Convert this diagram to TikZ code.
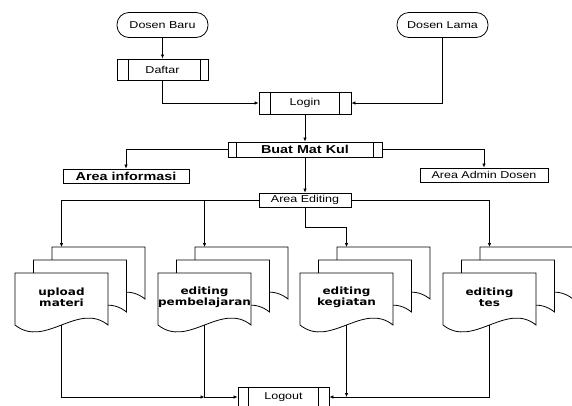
\documentclass[tikz,border=0pt]{standalone}
\usepackage{fontspec}
\setmainfont{Liberation Sans}[FakeStretch=1.25]
\newfontfamily\docfont{DejaVu Sans}[FakeStretch=1.2]
\usetikzlibrary{arrows.meta,calc}
\newcommand\mydocshape[2]{%
  \draw[docline] ({#1},{#2+52}) -- ({#1},{#2}) -- ({#1+93},{#2}) -- ({#1+93},{#2+52})
    .. controls ({#1+63},{#2+28}) and ({#1+30},{#2+76}) .. ({#1},{#2+52}) -- cycle;}
\newcommand\mydocstack[4]{%
  \begin{scope}[shift={(#1,#2)}]
    \mydocshape{37}{-26}
    \mydocshape{18.5}{-13}
    \mydocshape{0}{0}
    \coordinate (#3top) at (46.5,-26);
    \coordinate (#3bot) at (46.5,52);
    \node[doclabel] (#3) at (46.5,24) {#4};
  \end{scope}}
\begin{document}
\begin{tikzpicture}[x=1pt,y=-1pt,
  box/.style={draw=black,line width=0.8pt,inner sep=0pt,fill=white,font=\fontsize{10}{12}\selectfont},
  term/.style={box,rounded corners=12pt,minimum width=91pt,minimum height=25pt},
  bold/.style={font=\fontsize{11.5}{13}\selectfont\bfseries},
  docline/.style={draw=black,line width=0.8pt,fill=white},
  doclabel/.style={align=center,inner sep=0pt,font=\docfont\bfseries\fontsize{10}{11}\selectfont},
  arr/.style={draw=black,line width=0.7pt,-{Latex[length=4pt,width=3.5pt]}},
  ln/.style={draw=black,line width=0.8pt}]
\clip (0,0) rectangle (572,405);
\fill[white] (0,0) rectangle (572,405);

% top terminators
\node[term] (dbaru) at (162.5,25) {Dosen Baru};
\node[term] (dlama) at (442.5,25) {Dosen Lama};

% process boxes
\node[box,minimum width=91pt,minimum height=21pt] (daftar) at (162.5,69.5) {Daftar};
\draw[ln] ([xshift=12pt]daftar.north west) -- ([xshift=12pt]daftar.south west);
\draw[ln] ([xshift=-8pt]daftar.north east) -- ([xshift=-8pt]daftar.south east);

\node[box,minimum width=92pt,minimum height=22pt] (login) at (305,103) {Login};
\draw[ln] ([xshift=12pt]login.north west) -- ([xshift=12pt]login.south west);
\draw[ln] ([xshift=-12pt]login.north east) -- ([xshift=-12pt]login.south east);

\node[box,bold,minimum width=154pt,minimum height=15pt] (buat) at (305,149.5) {Buat Mat Kul};
\draw[ln] ([xshift=9pt]buat.north west) -- ([xshift=9pt]buat.south west);
\draw[ln] ([xshift=-9pt]buat.north east) -- ([xshift=-9pt]buat.south east);

\node[box,bold,minimum width=126pt,minimum height=14pt] (ainfo) at (126,176) {Area informasi};
\node[box,minimum width=128pt,minimum height=14pt] (aadmin) at (484,175) {Area Admin Dosen};
\node[box,minimum width=92pt,minimum height=14pt] (aedit) at (305,200) {Area Editing};

\node[box,minimum width=91pt,minimum height=20pt] (logout) at (283.5,397) {Logout};
\draw[ln] ([xshift=11pt]logout.north west) -- ([xshift=11pt]logout.south west);
\draw[ln] ([xshift=-11pt]logout.north east) -- ([xshift=-11pt]logout.south east);

% document stacks
\mydocstack{15}{273}{upload}{upload\\materi}
\mydocstack{158}{273}{pemb}{editing\\pembelajaran}
\mydocstack{300}{273}{keg}{editing\\kegiatan}
\mydocstack{443}{273}{tes}{editing\\tes}

% connectors
\draw[arr] (dbaru.south) -- (daftar.north);
\draw[arr] (daftar.south) |- (login.west);
\draw[arr] (dlama.south) |- (login.east);
\draw[arr] (login.south) -- (buat.north);
\draw[arr] (buat.west) -| (ainfo.north);
\draw[arr] (buat.east) -| (aadmin.north);
\draw[arr] (buat.south) -- (aedit.north);
\draw[arr] (aedit.west) -| (uploadtop);
\draw[arr] (aedit.west) -| (pembtop);
\draw[arr] (aedit.south) -- ++(0,20) -| (kegtop);
\draw[arr] (aedit.east) -| (testop);

\coordinate (join) at (pembbot |- logout.west);
\draw[arr] (uploadbot) |- (join);
\draw[arr] (pembbot) |- (logout.west);
\draw[arr] (kegbot) -- (kegbot |- logout.east);
\draw[arr] (tesbot) |- (logout.east);
\end{tikzpicture}
\end{document}
